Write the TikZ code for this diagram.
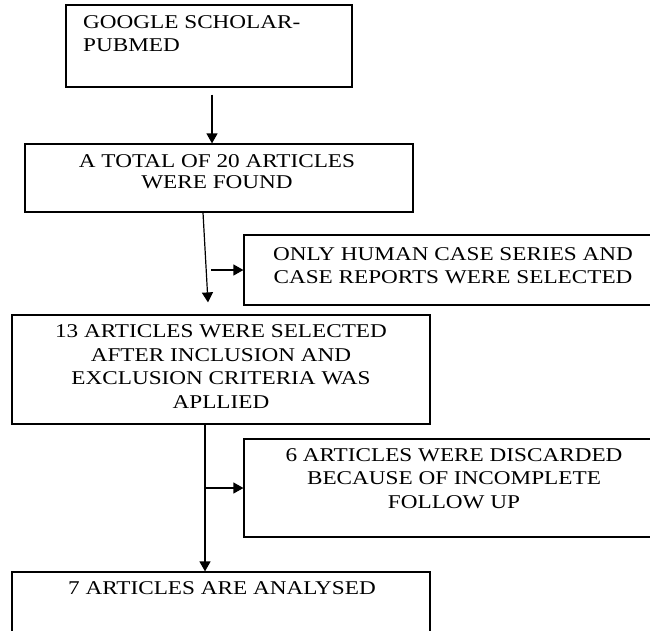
\documentclass[tikz,border=0pt]{standalone}
\usepackage{fontspec}
\setmainfont{Liberation Serif}[FakeStretch=1.19]
\usetikzlibrary{arrows.meta}
\begin{document}
\begin{tikzpicture}[x=1pt,y=-1pt,
  box/.style={draw=black, line width=1.2pt, rectangle, inner sep=0pt},
  txt/.style={inner sep=0pt, font=\fontsize{19.5}{23.5}\selectfont, align=center},
  arr/.style={-{Triangle[length=10pt,width=11pt]}, line width=1.2pt}]
\useasboundingbox (0,0) rectangle (650,630);
% boxes
\node[box, minimum width=286pt, minimum height=82pt] (b1) at (209,46) {};
\node[box, minimum width=388pt, minimum height=68pt] (b2) at (219,178) {};
\node[box, minimum width=408pt, minimum height=70pt] (b3) at (448,270) {};
\node[box, minimum width=418pt, minimum height=109pt] (b4) at (221,369.5) {};
\node[box, minimum width=408pt, minimum height=98pt] (b5) at (448,488) {};
\node[box, minimum width=418pt, minimum height=60pt] (b6) at (221,602) {};
% texts
\node[txt, anchor=west, align=left] (t1) at (83,33.5) {GOOGLE SCHOLAR-\\PUBMED};
\node[txt] (t2) at (217,172) {A TOTAL OF 20 ARTICLES\\[-2.5pt]WERE FOUND};
\node[txt] (t3) at (453,265.5) {ONLY HUMAN CASE SERIES AND\\CASE REPORTS WERE SELECTED};
\node[txt] (t4) at (221,366.5) {13 ARTICLES WERE SELECTED\\AFTER INCLUSION AND\\EXCLUSION CRITERIA WAS\\APLLIED};
\node[txt] (t5) at (454,478.5) {6 ARTICLES WERE DISCARDED\\BECAUSE OF INCOMPLETE\\FOLLOW UP};
\node[txt] (t6) at (222,588) {7 ARTICLES ARE ANALYSED};
% connectors
\coordinate (s1) at ([xshift=3pt,yshift=-7pt]b1.south);
\draw[arr] (s1) -- (s1 |- b2.north);
\coordinate (s2) at ([xshift=-16pt]b2.south);
\coordinate (e2) at ([xshift=-13pt,yshift=12pt]b4.north);
\draw[arr] (s2) -- (e2);
\coordinate (br1) at ([xshift=-32pt]b3.west);
\draw[arr] (br1) -- (b3.west);
\coordinate (s3) at ([xshift=-16pt]b4.south);
\draw[arr] (s3) -- (s3 |- b6.north);
\coordinate (br2) at (s3 |- b5.west);
\draw[arr] (br2) -- (b5.west);
\end{tikzpicture}
\end{document}
